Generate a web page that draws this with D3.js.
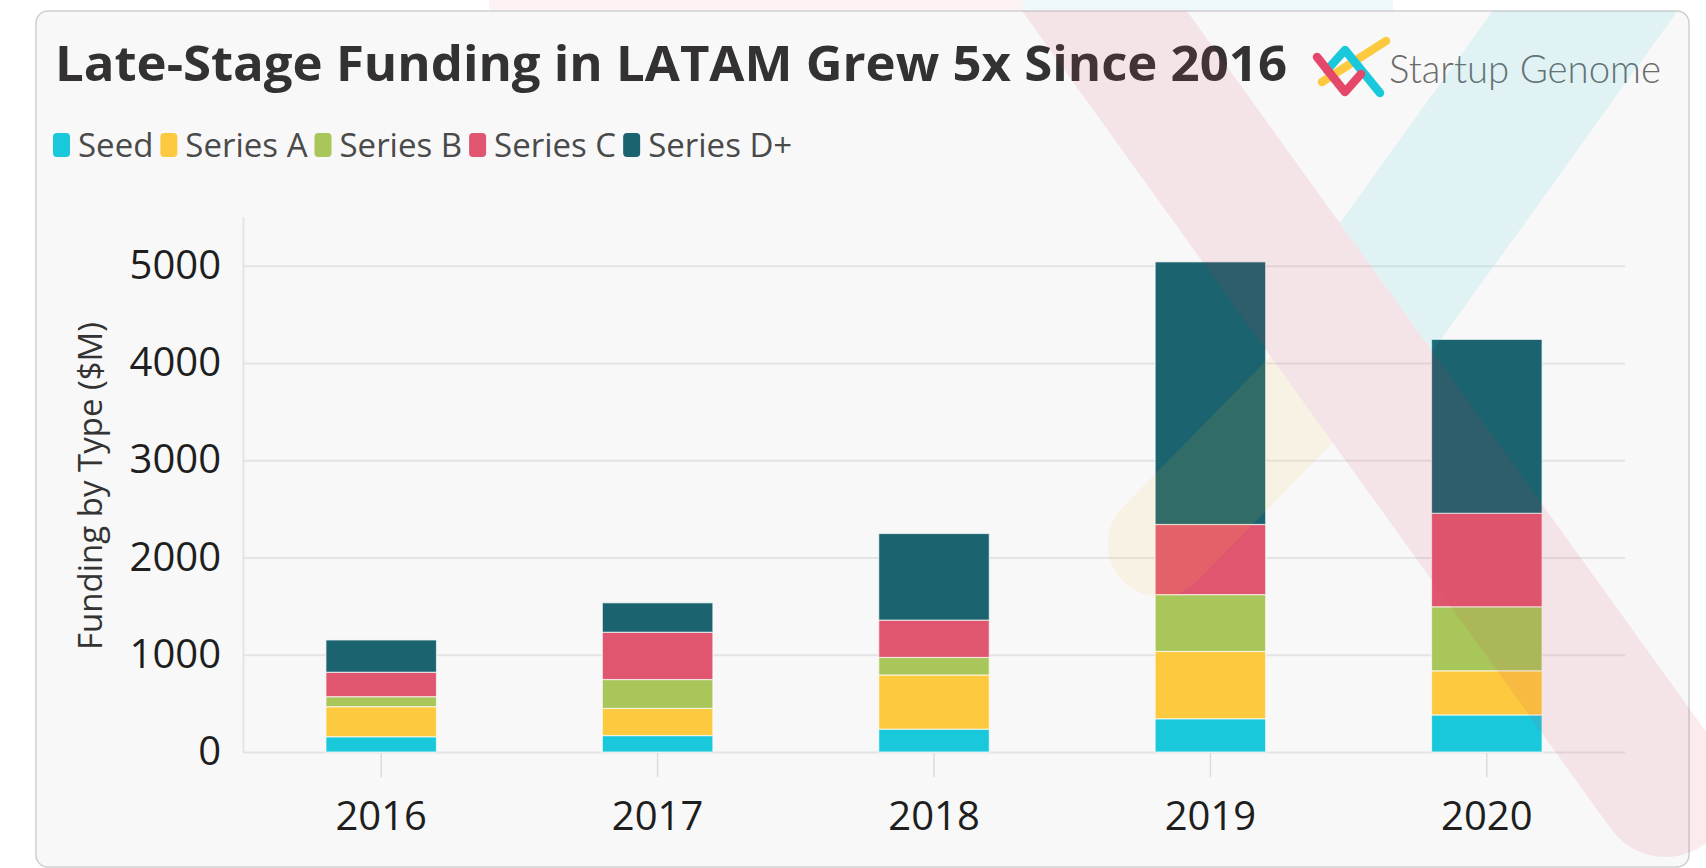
<!DOCTYPE html>
<html>
<head>
<meta charset="utf-8">
<script src="https://cdn.jsdelivr.net/npm/d3@7"></script>
<style>
  html, body { margin: 0; padding: 0; background: #ffffff; }
  svg { display: block; }
</style>
</head>
<body>
<svg id="chart" width="1706" height="868"></svg>
<script>
// ---- Data -------------------------------------------------------------
const years = ["2016", "2017", "2018", "2019", "2020"];
const seriesNames = ["Seed", "Series A", "Series B", "Series C", "Series D+"];
const seedValues    = [157, 169, 235, 342, 381];
const seriesAValues = [309, 279, 557, 692, 454];
const seriesBValues = [103, 297, 180, 584, 658];
const seriesCValues = [251, 486, 384, 721, 961];
const seriesDValues = [332, 303, 890, 2700, 1788];
const yTickValues = [0, 1000, 2000, 3000, 4000, 5000];
const seriesColors = ["#1ac8db", "#fdc93e", "#a8c65a", "#e0566e", "#1b636e"];

const titleText = "Late-Stage Funding in LATAM Grew 5x Since 2016";
const brandText = "Startup Genome";
const yAxisTitle = "Funding by Type ($M)";

// table for d3.stack
const seriesValues = [seedValues, seriesAValues, seriesBValues, seriesCValues, seriesDValues];
const table = years.map((yr, i) => {
  const row = { year: yr };
  seriesNames.forEach((s, k) => { row[s] = seriesValues[k][i]; });
  return row;
});

// ---- Layout -----------------------------------------------------------
const W = 1706, H = 868;
const plot = { left: 243, right: 1625, top: 217, bottom: 752 };
const FONT = "'Open Sans', 'Noto Sans', sans-serif";

const svg = d3.select("#chart");

// page tint strip above the card
svg.append("rect").attr("x", 489).attr("y", 0).attr("width", 534).attr("height", 12).attr("fill", "#fdf2f4");
svg.append("rect").attr("x", 1023).attr("y", 0).attr("width", 370).attr("height", 12).attr("fill", "#eef8fa");

// card
svg.append("rect")
  .attr("x", 36).attr("y", 11).attr("width", 1653).attr("height", 856)
  .attr("rx", 12)
  .attr("fill", "#f8f8f8").attr("stroke", "#cfcfcf").attr("stroke-width", 1.5);

// ---- Title (condensed bold) -------------------------------------------
svg.append("text")
  .attr("x", 55).attr("y", 81)
  .attr("font-family", FONT).attr("font-weight", 700).attr("font-size", 48)
  .attr("fill", "#333131")
  .attr("textLength", 1232).attr("lengthAdjust", "spacingAndGlyphs")
  .text(titleText);

// ---- Brand mark -------------------------------------------------------
const logo = svg.append("g").attr("fill", "none").attr("stroke-linecap", "round").attr("stroke-linejoin", "round").attr("stroke-width", 8.5);
logo.append("path").attr("d", "M1322,82 L1386,41").attr("stroke", "#fdc93e");
logo.append("path").attr("d", "M1327,70 L1345,50 L1380,93").attr("stroke", "#1ac8db");
logo.append("path").attr("d", "M1317,57 L1345,92 L1361,74").attr("stroke", "#e5476b");

const brand = svg.append("text")
  .attr("x", 1389).attr("y", 83)
  .attr("font-family", "Lato, 'Open Sans', sans-serif").attr("font-weight", 300).attr("font-size", 36)
  .attr("fill", "#6b6b6b")
  .text(brandText);
{
  const len = brand.node().getComputedTextLength();
  brand.attr("font-size", 36 * 272 / len);
}

// ---- Legend -----------------------------------------------------------
const legend = svg.append("g");
let lx = 53;
seriesNames.forEach((name, i) => {
  legend.append("rect")
    .attr("x", lx).attr("y", 133).attr("width", 17).attr("height", 24).attr("rx", 4)
    .attr("fill", seriesColors[i]);
  const t = legend.append("text")
    .attr("x", lx + 25).attr("y", 156.5)
    .attr("font-family", FONT).attr("font-size", 33).attr("fill", "#4a4a4a")
    .text(name);
  lx = lx + 25 + t.node().getComputedTextLength() + 7;
});

// ---- Scales -----------------------------------------------------------
const x = d3.scaleBand().domain(years).range([plot.left, plot.right]).paddingInner(0.6).paddingOuter(0.3);
const y = d3.scaleLinear().domain([0, 5500]).range([plot.bottom, plot.top]);
const color = d3.scaleOrdinal().domain(seriesNames).range(seriesColors);

// gridlines + left axis line
const grid = svg.append("g")
  .attr("transform", `translate(${plot.left},0)`)
  .call(d3.axisLeft(y).tickValues(yTickValues).tickSize(-(plot.right - plot.left)).tickSizeOuter(0).tickFormat(""));
grid.selectAll(".tick line").attr("stroke", "#e4e4e4").attr("stroke-width", 2);
grid.select(".domain").attr("stroke", "#e4e4e4").attr("stroke-width", 2);

// y tick labels
const yAxis = svg.append("g")
  .attr("transform", `translate(${plot.left},0)`)
  .call(d3.axisLeft(y).tickValues(yTickValues).tickSize(0).tickPadding(22).tickFormat(d3.format("d")));
yAxis.select(".domain").remove();
yAxis.selectAll("text")
  .attr("font-family", FONT).attr("font-size", 40).attr("fill", "#1e1e1e");

// x axis
const xAxis = svg.append("g")
  .attr("transform", `translate(0,${plot.bottom + 1})`)
  .call(d3.axisBottom(x).tickSize(24).tickPadding(25));
xAxis.select(".domain").remove();
xAxis.selectAll(".tick line").attr("stroke", "#dcdcdc").attr("stroke-width", 1.5);
xAxis.selectAll("text")
  .attr("font-family", FONT).attr("font-size", 40).attr("fill", "#1e1e1e");

// y axis title
svg.append("text")
  .attr("transform", "translate(102,486) rotate(-90)")
  .attr("text-anchor", "middle")
  .attr("font-family", FONT).attr("font-size", 33).attr("fill", "#333")
  .text(yAxisTitle);

// ---- Stacked bars -----------------------------------------------------
const stacked = d3.stack().keys(seriesNames)(table);
svg.append("g")
  .selectAll("g")
  .data(stacked)
  .join("g")
  .attr("fill", d => color(d.key))
  .selectAll("rect")
  .data(d => d)
  .join("rect")
  .attr("x", d => x(d.data.year))
  .attr("width", x.bandwidth())
  .attr("y", d => y(d[1]))
  .attr("height", d => y(d[0]) - y(d[1]))
  .attr("stroke", "rgba(255,255,255,0.65)")
  .attr("stroke-width", 1.2);

// ---- Translucent brand ribbons over the card --------------------------
const defs = svg.append("defs");
const slope = 0.72;          // horizontal run per unit of vertical drop
const ribbonTopY = 11;
const pinkCenterX = 1104.5;  // centre of the pink ribbon at the card top
const pinkHalf = 82.5;       // horizontal half-width of the pink ribbon
const perp = 1 / Math.sqrt(1 + slope * slope);

defs.append("clipPath").attr("id", "clip-top")
  .append("rect").attr("x", 0).attr("y", ribbonTopY).attr("width", W).attr("height", H - ribbonTopY);

defs.append("clipPath").attr("id", "clip-left-of-pink")
  .append("polygon").attr("points", [
    [pinkCenterX - pinkHalf, ribbonTopY],
    [pinkCenterX - pinkHalf + slope * 1000, ribbonTopY + 1000],
    [-100, ribbonTopY + 1000],
    [-100, ribbonTopY]
  ].map(p => p.join(",")).join(" "));

defs.append("clipPath").attr("id", "clip-right-of-pink")
  .append("polygon").attr("points", [
    [pinkCenterX + pinkHalf, ribbonTopY],
    [pinkCenterX + pinkHalf + slope * 1000, ribbonTopY + 1000],
    [3000, ribbonTopY + 1000],
    [3000, ribbonTopY]
  ].map(p => p.join(",")).join(" "));

const ribbons = svg.append("g").attr("pointer-events", "none").attr("fill", "none");

// cyan ribbon (upper right, runs down-left into the pink one)
const blueTopX = 1585;
ribbons.append("line")
  .attr("clip-path", "url(#clip-right-of-pink)")
  .attr("x1", blueTopX + slope * 100).attr("y1", ribbonTopY - 100)
  .attr("x2", blueTopX - slope * 600).attr("y2", ribbonTopY + 600)
  .attr("stroke", "#1ac8db").attr("stroke-opacity", 0.1)
  .attr("stroke-width", 185 * perp);

// yellow ribbon (rounded end on the left, rising into the pink one)
ribbons.append("line")
  .attr("clip-path", "url(#clip-left-of-pink)")
  .attr("x1", 1160).attr("y1", 544)
  .attr("x2", 1160 + 0.7 * 400).attr("y2", 544 - 0.714 * 400)
  .attr("stroke", "#fdc93e").attr("stroke-opacity", 0.1)
  .attr("stroke-width", 105).attr("stroke-linecap", "round");

// pink ribbon (long diagonal to the lower right corner)
const pinkEndY = 790;
ribbons.append("line")
  .attr("clip-path", "url(#clip-top)")
  .attr("x1", pinkCenterX - slope * 100).attr("y1", ribbonTopY - 100)
  .attr("x2", pinkCenterX + slope * (pinkEndY - ribbonTopY)).attr("y2", pinkEndY)
  .attr("stroke", "#dc3d66").attr("stroke-opacity", 0.1)
  .attr("stroke-width", 2 * pinkHalf * perp).attr("stroke-linecap", "round");
</script>
</body>
</html>
